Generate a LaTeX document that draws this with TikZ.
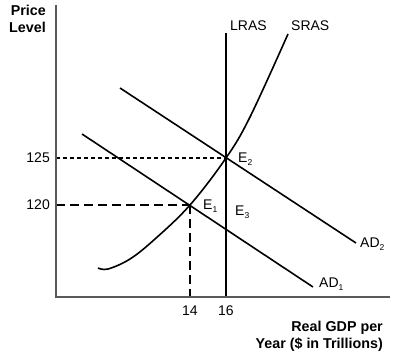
\documentclass[tikz,border=0pt]{standalone}
\usepackage{fontspec}
\setmainfont{Liberation Sans}
\newcommand{\sbs}[1]{\raisebox{-2.5pt}{\fontsize{8.5}{9}\selectfont #1}}
\begin{document}
\begin{tikzpicture}[x=1pt,y=-1pt,
  axis/.style={draw=black!65,line width=1.8pt},
  curve/.style={draw=black,line width=1.6pt},
  lbl/.style={font=\fontsize{14}{16}\selectfont,inner sep=0pt},
  blbl/.style={font=\fontsize{14.3}{17}\selectfont\bfseries,inner sep=0pt,align=right},
  shortdash/.style={draw=black,line width=1.1pt,dash pattern=on 4pt off 3pt},
  longdash/.style={draw=black,line width=1.1pt,dash pattern=on 9pt off 5pt}]
\useasboundingbox (0,0) rectangle (400,361);
% coordinates
\coordinate (O) at (56,297);
\coordinate (Ytop) at (56,5);
\coordinate (Xend) at (390,297);
\coordinate (E2) at (226,158);
\coordinate (E1) at (190,205);
\coordinate (LRtop) at (226,33);
\coordinate (LRbot) at (226,297);
\coordinate (Y125) at (56,158);
\coordinate (Y120) at (56,205);
\coordinate (X14) at (190,297);
\coordinate (AD2s) at (120,88);
\coordinate (AD2e) at (356,243);
\coordinate (AD1s) at (82,134);
\coordinate (AD1e) at (313,287);
% dashed guides
\draw[shortdash] (Y125) -- (E2);
\draw[longdash] (Y120) -- (E1);
\draw[longdash] (E1) -- (X14);
% curves
\draw[curve] (LRtop) -- (LRbot);
\draw[curve] (AD2s) -- (AD2e);
\draw[curve] (AD1s) -- (AD1e);
\draw[curve] plot[smooth,tension=0.6] coordinates {(98,268) (108,269) (130,259) (155,239) (190,205) (226,158) (250,117) (288,34)};
% axes
\draw[axis] (Ytop) -- (O) -- (Xend);
% labels
\node[blbl,anchor=north east] (ylab) at (46,5) {Price\\Level};
\node[blbl,anchor=north east] (xlab) at (383,321) {Real GDP per\\Year (\$ in Trillions)};
\node[lbl,anchor=base west] (lras) at (230,31) {LRAS};
\node[lbl,anchor=base west] (sras) at (291,31) {SRAS};
\node[lbl,anchor=east] (l125) at (50,158) {125};
\node[lbl,anchor=east] (l120) at (50,205) {120};
\node[lbl,anchor=north] (l14) at (190,306) {14};
\node[lbl,anchor=north] (l16) at (226,306) {16};
\node[lbl,anchor=base west] (e2) at (238,163) {E\sbs{2}};
\node[lbl,anchor=base west] (e1) at (203,210) {E\sbs{1}};
\node[lbl,anchor=base west] (e3) at (235,216) {E\sbs{3}};
\node[lbl,anchor=base west] (ad2) at (360,248) {AD\sbs{2}};
\node[lbl,anchor=base west] (ad1) at (319,288) {AD\sbs{1}};
\end{tikzpicture}
\end{document}
